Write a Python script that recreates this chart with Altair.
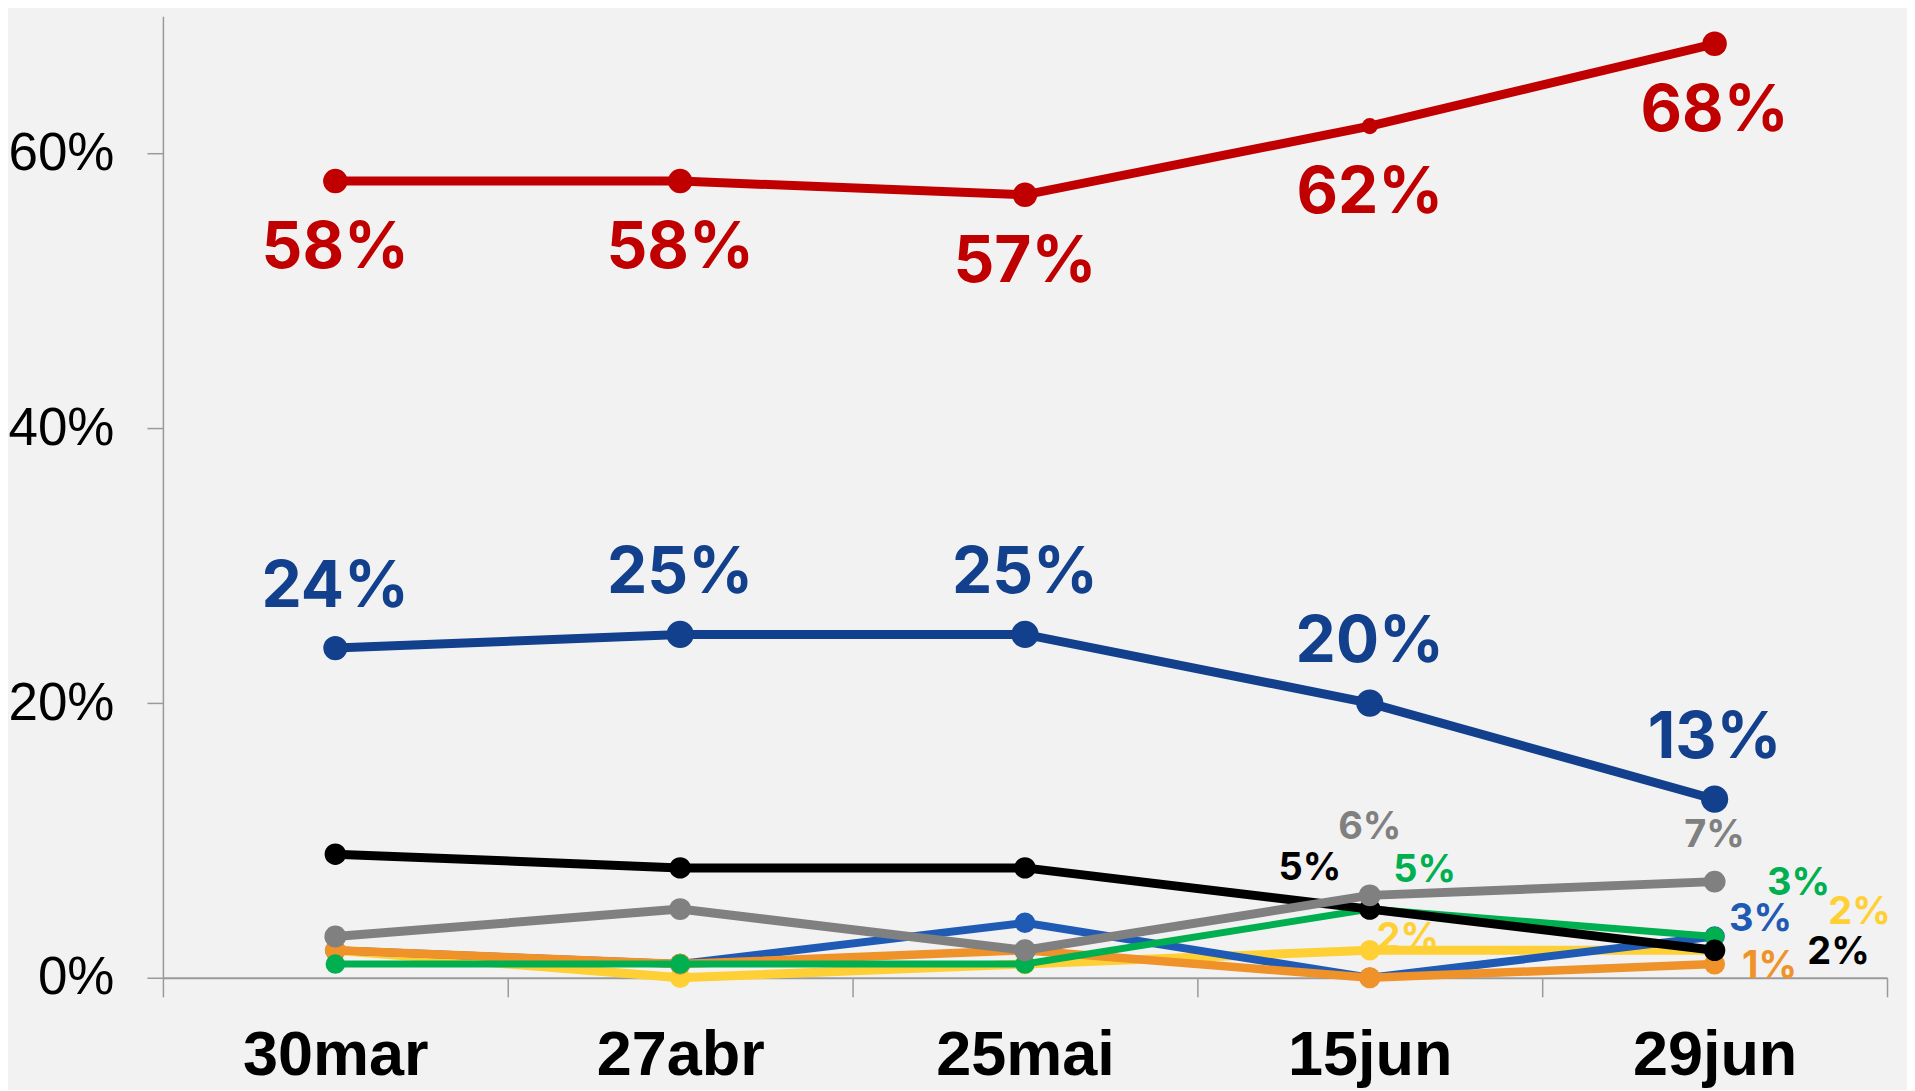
import altair as alt
import pandas as pd

dates = ["30mar", "27abr", "25mai", "15jun", "29jun"]

red = [58, 58, 57, 62, 68]
navy = [24, 25, 25, 20, 13]
black = [9, 8, 8, 5, 2]
gray = [3, 5, 2, 6, 7]
blue = [2, 1, 4, 0, 3]
green = [1, 1, 1, 5, 3]
yellow = [2, 0, 1, 2, 2]
orange = [2, 1, 2, 0, 1]

series_values = {
    "yellow": yellow,
    "blue": blue,
    "orange": orange,
    "green": green,
    "black": black,
    "gray": gray,
    "navy": navy,
    "red": red,
}

rows = []
for name, vals in series_values.items():
    for d, v in zip(dates, vals):
        rows.append({"series": name, "date": d, "value": v})
df = pd.DataFrame(rows)

# series styles: colour, line width, point area
styles = {
    "yellow": ("#FFD035", 9, 420),
    "blue": ("#1F5BB5", 8, 420),
    "orange": ("#F0922A", 8.5, 440),
    "green": ("#00B050", 7, 380),
    "black": ("#000000", 9, 460),
    "gray": ("#808080", 9, 480),
    "navy": ("#12408C", 9, 740),
    "red": ("#C00000", 9, 600),
}

x_enc = alt.X(
    "date:N",
    sort=dates,
    scale=alt.Scale(type="band", paddingInner=0, paddingOuter=0),
    bandPosition=0.5,
    axis=alt.Axis(
        title=None,
        labelAngle=0,
        labelFont="Liberation Sans",
        labelFontWeight="bold",
        labelFontSize=63,
        labelColor="#000000",
        labelPadding=28,
        labelLimit=0,
        labelOverlap=False,
        tickSize=19,
        tickBand="extent",
        tickColor="#9A9A9A",
        tickWidth=1.5,
        domainColor="#9A9A9A",
        domainWidth=2,
        grid=False,
    ),
)
y_enc = alt.Y(
    "value:Q",
    scale=alt.Scale(domain=[0, 70], nice=False, zero=True),
    axis=alt.Axis(
        title=None,
        values=[0, 20, 40, 60],
        labelExpr="datum.value + '%'",
        labelFont="Liberation Sans",
        labelFontSize=53,
        labelColor="#000000",
        labelPadding=33,
        tickSize=16,
        tickColor="#9A9A9A",
        tickWidth=1.5,
        domainColor="#9A9A9A",
        domainWidth=1.5,
        grid=False,
    ),
)

base = alt.Chart(df).transform_calculate(label="datum.value + '%'")

layers = []

# big labels
big_label_specs = [("red", 68), ("navy", -60)]
for name, dy in big_label_specs:
    layers.append(
        base.transform_filter(alt.datum.series == name)
        .mark_text(font="Inter", fontWeight="bold", fontSize=64, dy=dy, baseline="middle", align="center",
                   color=styles[name][0])
        .encode(x=x_enc, y=y_enc, text="label:N")
    )

# small labels (series, date, dx, dy)
small_label_specs = [
    ("gray", "15jun", 0, -67),
    ("black", "15jun", -60, -40),
    ("green", "15jun", 55, -38),
    ("yellow", "15jun", 38, -11),
    ("gray", "29jun", 0, -46),
    ("green", "29jun", 84, -53),
    ("blue", "29jun", 46, -17),
    ("yellow", "29jun", 145, -37),
    ("black", "29jun", 124, 3),
    ("orange", "29jun", 55, 3),
]
for name, d, dx, dy in small_label_specs:
    layers.append(
        base.transform_filter((alt.datum.series == name) & (alt.datum.date == d))
        .mark_text(font="Inter", fontWeight="bold", fontSize=38, dx=dx, dy=dy, baseline="middle", align="center",
                   color=styles[name][0])
        .encode(x=x_enc, y=y_enc, text="label:N")
    )

for name, (color, sw, psize) in styles.items():
    sub = base.transform_filter(alt.datum.series == name)
    layers.append(
        sub.mark_line(color=color, strokeWidth=sw).encode(x=x_enc, y=y_enc)
    )
    if name == "red":
        size_enc = alt.condition(alt.datum.date == "15jun", alt.value(260), alt.value(psize))
    elif name == "navy":
        size_enc = alt.condition(alt.datum.date == "30mar", alt.value(580), alt.value(psize))
    else:
        size_enc = alt.value(psize)
    layers.append(
        sub.mark_point(filled=True, opacity=1, color=color, shape="circle")
        .encode(x=x_enc, y=y_enc, size=size_enc)
    )

chart = (
    alt.layer(*layers)
    .properties(
        width=1725,
        height=962,
        autosize=alt.AutoSizeParams(type="none"),
        padding={"left": 155, "top": 8, "right": 20, "bottom": 112},
        background="#F2F2F2",
    )
    .configure_view(stroke=None)
)

chart.save("out.html", embed_options={"renderer": "svg", "actions": False})
